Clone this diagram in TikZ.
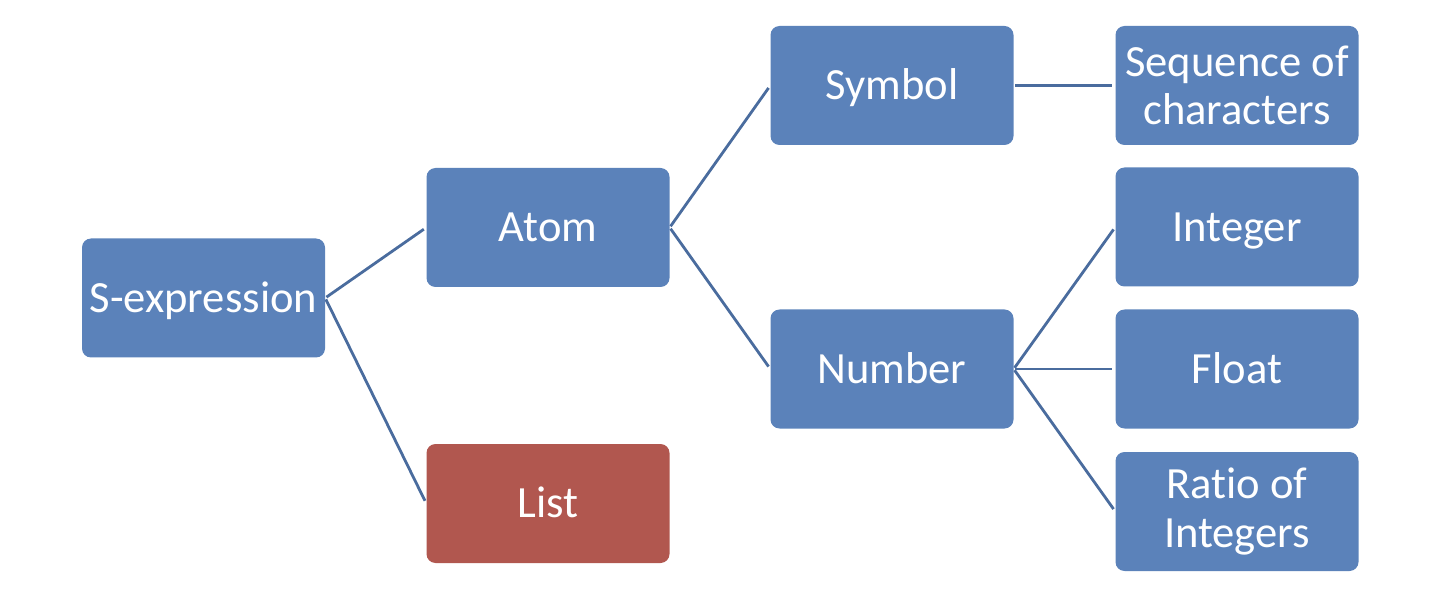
\documentclass[tikz,border=0pt]{standalone}
\usepackage{fontspec}
\setmainfont{Carlito}[Ligatures=NoCommon]
\definecolor{boxblue}{HTML}{5B82BA}
\definecolor{boxred}{HTML}{B1574F}
\definecolor{linkblue}{HTML}{4A6C9E}
\tikzset{
  box/.style={rectangle, rounded corners=9pt, fill=boxblue, draw=none,
    minimum width=243pt, minimum height=119pt, inner sep=0pt, text=white,
    font=\fontsize{44.6}{48.5}\selectfont, align=center},
  one/.style={text height=28.5pt, text depth=0pt},
  redbox/.style={box, fill=boxred},
  link/.style={draw=linkblue, line width=2.8pt, shorten <=1.5pt, shorten >=3pt}
}
\begin{document}
\begin{tikzpicture}[x=1pt,y=-1pt]
\useasboundingbox (0,0) rectangle (1452,612);
\node[box,one] (sexp) at (203.5,298) {S-expression};
\node[box,one] (atom) at (548,227.5) {Atom};
\node[redbox,one] (list) at (548,503.5) {List};
\node[box,one] (symbol) at (892,85.5) {Symbol};
\node[box,one] (number) at (892,369) {Number};
\node[box] (seq) at (1237,85.5) {Sequence of\\characters};
\node[box,one] (integer) at (1237,227) {Integer};
\node[box,one] (float) at (1237,369) {Float};
\node[box] (ratio) at (1237,511.5) {Ratio of\\Integers};
\draw[link] (sexp.east) -- (atom.west);
\draw[link] (sexp.east) -- (list.west);
\draw[link] (atom.east) -- (symbol.west);
\draw[link] (atom.east) -- (number.west);
\draw[link] (symbol.east) -- (seq.west);
\draw[link] (number.east) -- (integer.west);
\draw[link] (number.east) -- (float.west);
\draw[link] (number.east) -- (ratio.west);
\end{tikzpicture}
\end{document}
